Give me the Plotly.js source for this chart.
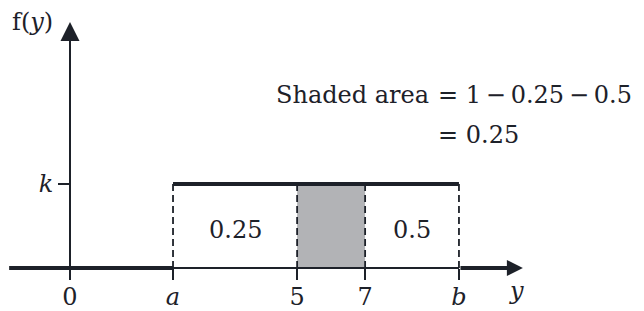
<!DOCTYPE html>
<html>
<head>
<meta charset="utf-8">
<script src="https://cdn.plot.ly/plotly-3.0.1.min.js"></script>
<style>html,body{margin:0;padding:0;background:#fff;}#chart{width:644px;height:311px;}</style>
</head>
<body>
<div id="chart"></div>
<script>
// Schematic positions along the y axis of the diagram (not to scale, as in the source)
const tickLabels = ['0', '<i>a</i>', '5', '7', '<i>b</i>'];
const tickPos = [0, 3.03, 6.68, 8.68, 11.44];
const kValue = 1;
const kLabel = '<i>k</i>';
const areaLabels = ['0.25', '0.5'];
const axisLeft = -1.79;
const axisRight = 13.32;
const yAxisTop = 2.93;
const eqLine1a = 'Shaded area';
const eqLine1b = '= 1\u2009−\u20090.25\u2009−\u20090.5';
const eqLine2 = '= 0.25';

const a = tickPos[1], y5 = tickPos[2], y7 = tickPos[3], b = tickPos[4];
const ink = '#1d2129';
const font = {family: 'DejaVu Serif, serif', size: 24, color: ink};

const traces = [];
// shaded region between 5 and 7
traces.push({x: [y5, y7, y7, y5, y5], y: [0, 0, kValue, kValue, 0], mode: 'lines', fill: 'toself',
  fillcolor: '#b2b3b6', line: {width: 0}, hoverinfo: 'skip'});
// thin axis line between a and b
traces.push({x: [a, b], y: [0, 0], mode: 'lines', line: {color: ink, width: 2}, hoverinfo: 'skip'});
// density: zero outside [a,b], k inside (thick)
traces.push({x: [axisLeft, a], y: [0, 0], mode: 'lines', line: {color: ink, width: 4}, hoverinfo: 'skip'});
traces.push({x: [a, b], y: [kValue, kValue], mode: 'lines', line: {color: ink, width: 4}, hoverinfo: 'skip'});
// dashed verticals
[a, y5, y7, b].forEach(v => {
  traces.push({x: [v, v], y: [0, kValue], mode: 'lines', line: {color: ink, width: 1.8, dash: '7px,4px'}, hoverinfo: 'skip'});
});
// y axis line
traces.push({x: [0, 0], y: [0, yAxisTop - 0.1], mode: 'lines', line: {color: ink, width: 2}, hoverinfo: 'skip'});

const annotations = [
  // x axis arrow (thick, from b)
  {x: axisRight, y: 0, ax: b, ay: 0, xref: 'x', yref: 'y', axref: 'x', ayref: 'y', text: '', showarrow: true,
   arrowhead: 2, arrowsize: 0.8, arrowwidth: 4, arrowcolor: ink},
  // y axis arrow
  {x: 0, y: yAxisTop, ax: 0, ay: yAxisTop - 0.4, xref: 'x', yref: 'y', axref: 'x', ayref: 'y', text: '', showarrow: true,
   arrowhead: 2, arrowsize: 1.9, arrowwidth: 2, arrowcolor: ink},
  {x: -0.45, y: yAxisTop, xref: 'x', yref: 'y', text: 'f(<i>y</i>)', showarrow: false, xanchor: 'right', yanchor: 'middle', font: font},
  {x: 13.12, y: -0.27, xref: 'x', yref: 'y', text: '<i>y</i>', showarrow: false, xanchor: 'center', yanchor: 'middle', font: font},
  {x: (a + y5) / 2, y: 0.45 * kValue, xref: 'x', yref: 'y', text: areaLabels[0], showarrow: false, font: font},
  {x: (y7 + b) / 2, y: 0.45 * kValue, xref: 'x', yref: 'y', text: areaLabels[1], showarrow: false, font: font},
  {x: 10.62, y: 2.06, xref: 'x', yref: 'y', text: eqLine1a, showarrow: false, xanchor: 'right', yanchor: 'middle', font: font},
  {x: 10.76, y: 2.06, xref: 'x', yref: 'y', text: eqLine1b, showarrow: false, xanchor: 'left', yanchor: 'middle', font: font},
  {x: 10.76, y: 1.58, xref: 'x', yref: 'y', text: eqLine2, showarrow: false, xanchor: 'left', yanchor: 'middle', font: font}
];

const layout = {
  width: 644, height: 311,
  margin: {l: 0, r: 0, t: 0, b: 0},
  paper_bgcolor: '#fff', plot_bgcolor: '#fff',
  showlegend: false,
  xaxis: {range: [-70 / 34, 574 / 34], anchor: 'free', position: 43 / 311,
    showgrid: false, zeroline: false, showline: false,
    tickmode: 'array', tickvals: tickPos, ticktext: tickLabels,
    ticks: 'outside', ticklen: 11, tickwidth: 2, tickcolor: ink, tickfont: font,
    ticklabelstandoff: -4},
  yaxis: {range: [-43 / 84, 268 / 84], anchor: 'free', position: 70 / 644,
    showgrid: false, zeroline: false, showline: false,
    tickmode: 'array', tickvals: [kValue], ticktext: [kLabel],
    ticks: 'outside', ticklen: 12, tickwidth: 2, tickcolor: ink, tickfont: font},
  annotations: annotations
};

Plotly.newPlot('chart', traces, layout, {displayModeBar: false, staticPlot: true});
</script>
</body>
</html>
